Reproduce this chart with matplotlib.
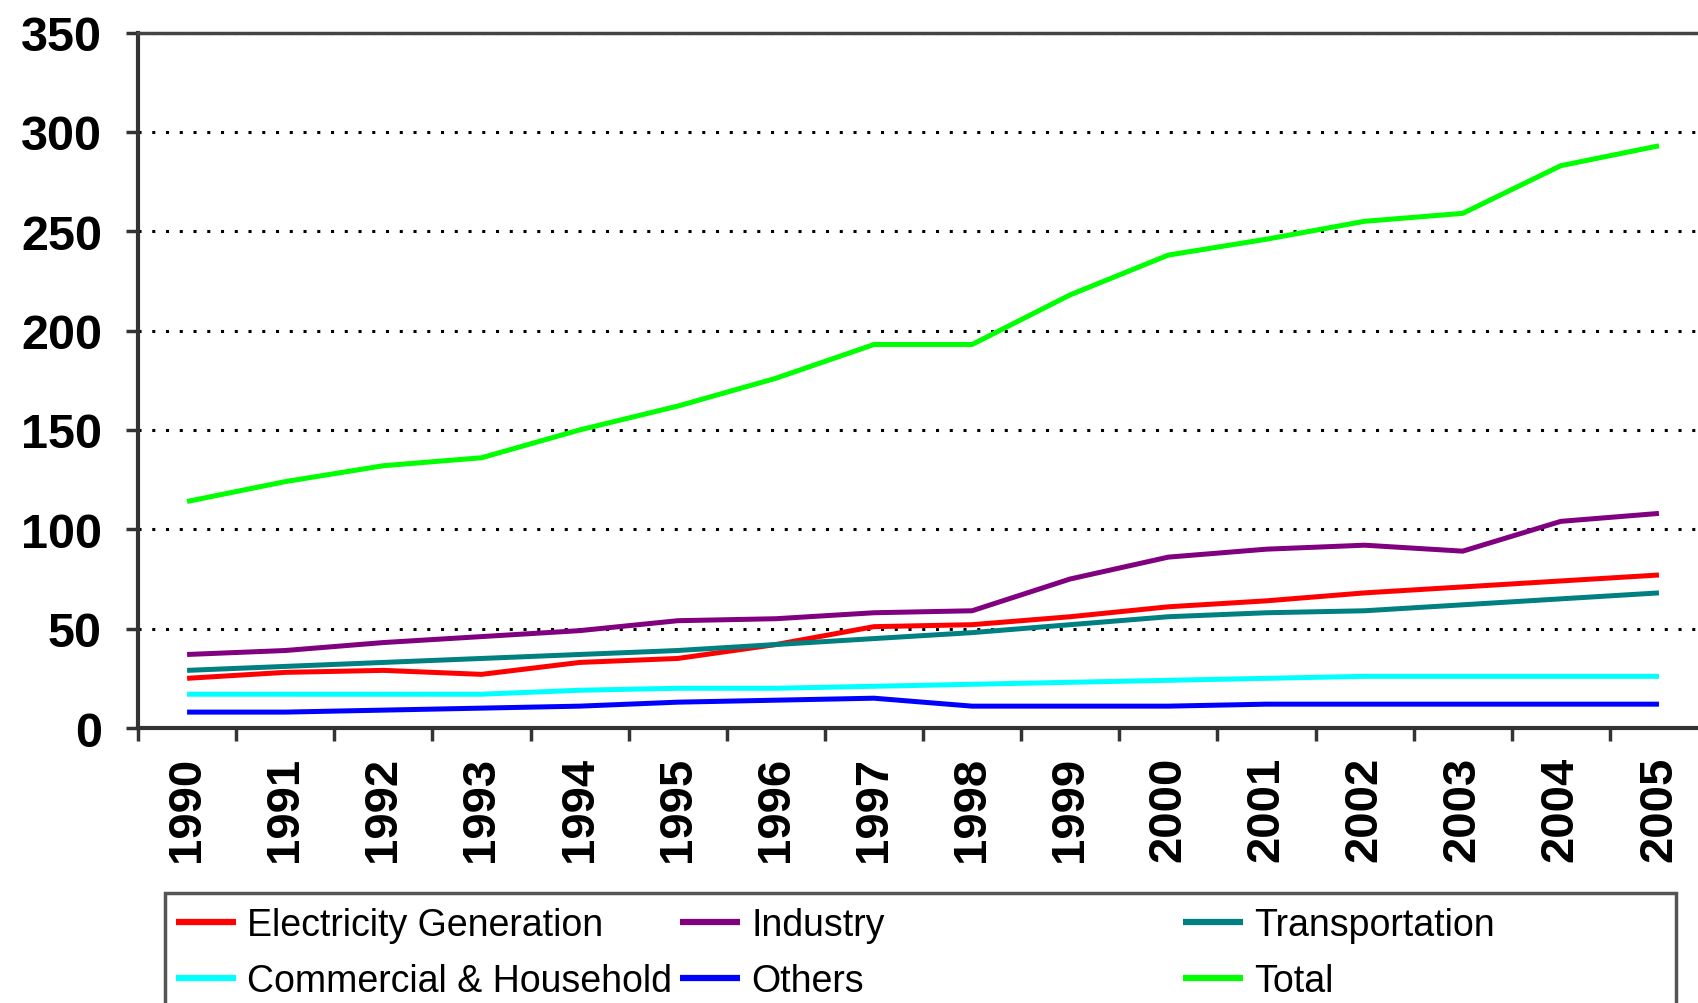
import matplotlib
matplotlib.use('Agg')
import matplotlib.pyplot as plt
from matplotlib.patches import Rectangle
import numpy as np

years = [str(y) for y in range(1990, 2006)]
electricity = [25, 28, 29, 27, 33, 35, 42, 51, 52, 56, 61, 64, 68, 71, 74, 77]
industry = [37, 39, 43, 46, 49, 54, 55, 58, 59, 75, 86, 90, 92, 89, 104, 108]
transportation = [29, 31, 33, 35, 37, 39, 42, 45, 48, 52, 56, 58, 59, 62, 65, 68]
commercial = [17, 17, 17, 17, 19, 20, 20, 21, 22, 23, 24, 25, 26, 26, 26, 26]
others = [8, 8, 9, 10, 11, 13, 14, 15, 11, 11, 11, 12, 12, 12, 12, 12]
total = [114, 124, 132, 136, 150, 162, 176, 193, 193, 218, 238, 246, 255, 259, 283, 293]
y_ticks = [0, 50, 100, 150, 200, 250, 300, 350]

series_names = ['Electricity Generation', 'Industry', 'Transportation',
                'Commercial & Household', 'Others', 'Total']
series_colors = ['#ff0000', '#800080', '#008080', '#00ffff', '#0000ff', '#00ff00']
series_values = [electricity, industry, transportation, commercial, others, total]

fig = plt.figure(figsize=(16.98, 10.04), dpi=100)
ax = fig.add_axes([0.0813, 0.2739, 0.9246, 0.6927])
x = np.arange(len(years))
lines = {}
for name, col, vals in zip(series_names, series_colors, series_values):
    ln, = ax.plot(x, vals, color=col, lw=3.6, label=name, solid_capstyle='butt')
    lines[name] = ln

ax.set_xlim(-0.5, len(years) - 0.5)
ax.set_ylim(0, 350)
ax.set_yticks(y_ticks)
ax.set_yticklabels([str(v) for v in y_ticks], fontsize=35, fontweight='bold',
                   family='Liberation Sans')
ax.set_xticks(x)
ax.set_xticklabels(years, rotation=90, fontsize=34, fontweight='bold',
                   family='Liberation Sans')
ax.set_xticks(np.arange(-0.5, len(years), 1), minor=True)
ax.tick_params(axis='x', which='major', length=0, pad=20)
ax.tick_params(axis='x', which='minor', length=9, width=2.5, color='#333333', direction='out')
ax.tick_params(axis='y', which='major', length=9, width=2.5, color='#333333', pad=17)

ax.yaxis.grid(True, linestyle=(0, (1, 3.5)), color='black', lw=2.2)
ax.set_axisbelow(True)

for s in ['left', 'bottom']:
    ax.spines[s].set_color('#333333')
    ax.spines[s].set_linewidth(3)
ax.spines['top'].set_color('#444444')
ax.spines['top'].set_linewidth(2.5)
ax.spines['right'].set_visible(False)

# legend frame
frame = Rectangle((165 / 1698, -0.05), (1676 - 165) / 1698, 0.1096 + 0.05,
                  transform=fig.transFigure, fill=False, edgecolor='#555555', lw=2.5)
fig.add_artist(frame)

cols = [(['Electricity Generation', 'Commercial & Household'], 176 / 1698),
        (['Industry', 'Others'], 680 / 1698),
        (['Transportation', 'Total'], 1183 / 1698)]
for names, xpos in cols:
    leg = fig.legend([lines[n] for n in names], names, loc='center left',
                     bbox_to_anchor=(xpos, 0.0496), frameon=False,
                     prop={'family': 'Liberation Sans', 'size': 27},
                     handlelength=1.6, handletextpad=0.3, labelspacing=0.52,
                     borderpad=0, borderaxespad=0)
    for h in leg.legend_handles:
        h.set_linewidth(4.5)

fig.savefig('out.png', dpi=100)
